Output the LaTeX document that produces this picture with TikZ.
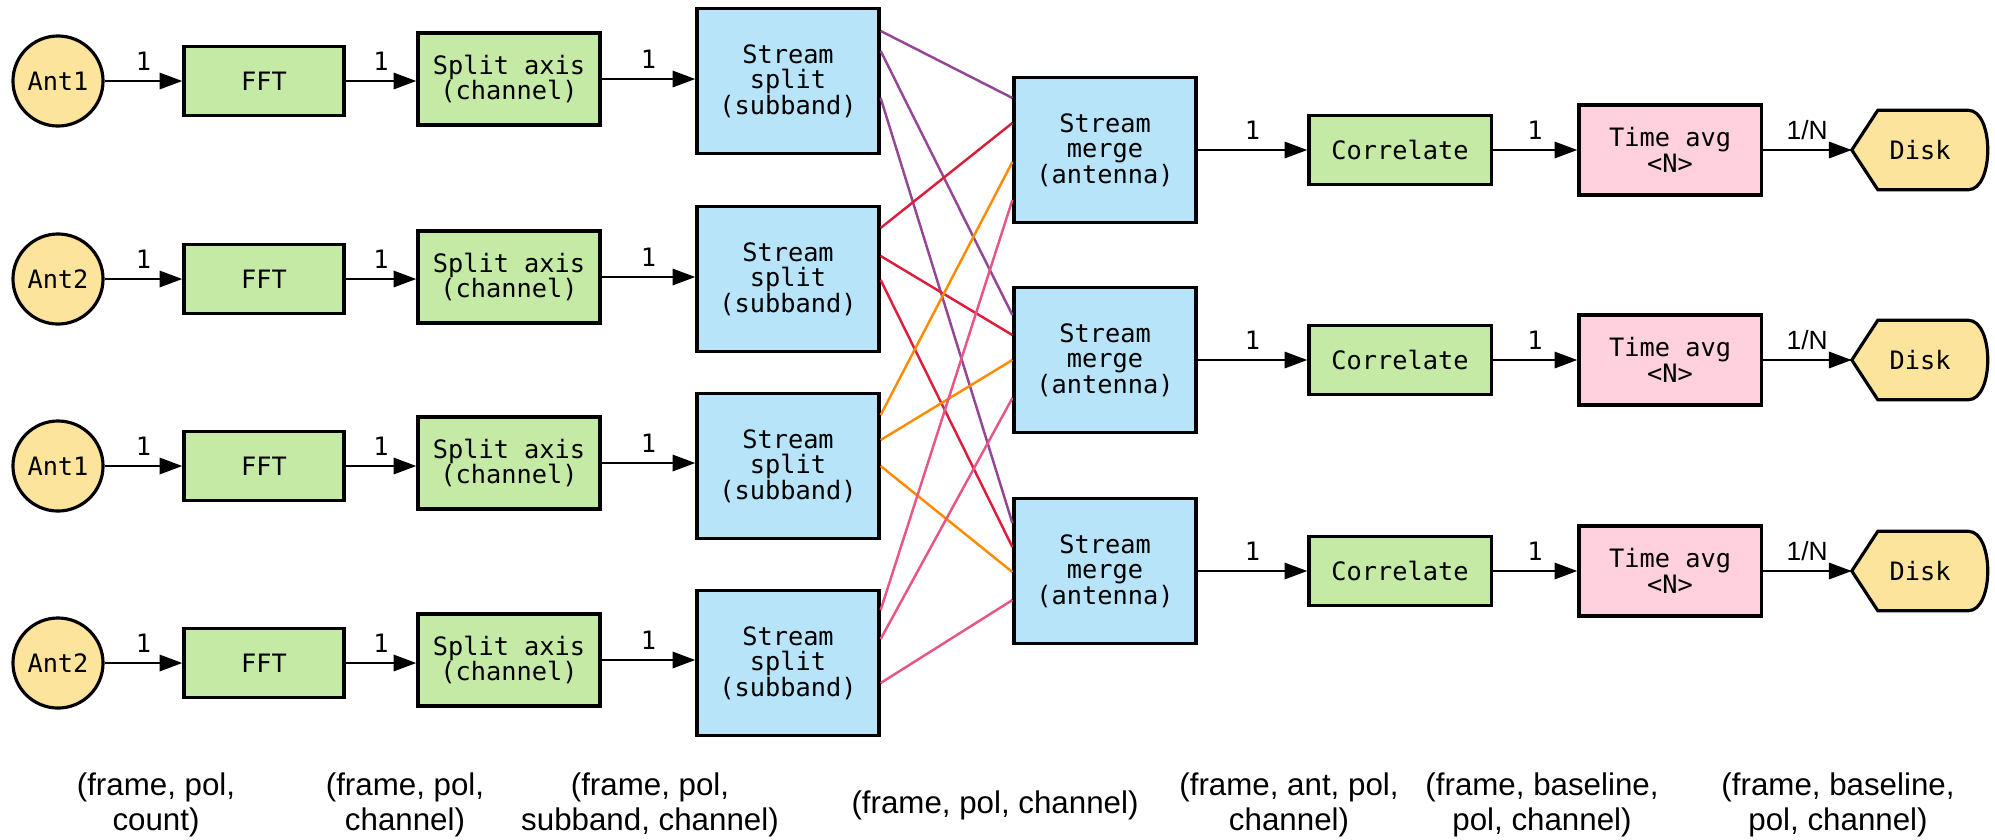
\documentclass[tikz,border=0pt]{standalone}
\usepackage{fontspec}
\setmainfont{Liberation Sans}
\setmonofont{DejaVu Sans Mono}
\usepackage{tikz}
\usetikzlibrary{arrows.meta,backgrounds}

\definecolor{antyellow}{RGB}{253,228,156}
\definecolor{stagegreen}{RGB}{196,234,166}
\definecolor{streamblue}{RGB}{183,228,248}
\definecolor{avgpink}{RGB}{255,208,222}
\definecolor{linkpurple}{RGB}{148,70,150}
\definecolor{linkred}{RGB}{220,30,60}
\definecolor{linkorange}{RGB}{255,140,0}
\definecolor{linkrose}{RGB}{232,85,135}

\begin{document}
\begin{tikzpicture}[x=0.01cm,y=-0.01cm,>={Triangle[length=6.5pt,width=4.6pt]},
  font=\ttfamily\fontsize{7.2}{7.3}\selectfont,
  box/.style={draw,line width=0.9pt,inner sep=1pt,align=center},
  ant/.style={box,circle,fill=antyellow,minimum size=0.9cm,inner sep=0pt},
  fft/.style={box,fill=stagegreen,minimum width=1.6cm,minimum height=0.69cm},
  axis/.style={box,fill=stagegreen,minimum width=1.82cm,minimum height=0.92cm},
  stream/.style={box,fill=streamblue,minimum width=1.82cm,minimum height=1.45cm},
  corr/.style={box,fill=stagegreen,minimum width=1.82cm,minimum height=0.69cm},
  tavg/.style={box,fill=avgpink,minimum width=1.82cm,minimum height=0.9cm},
  disk/.style={minimum width=1.35cm,minimum height=0.78cm,inner sep=0pt},
  flow/.style={->,line width=0.8pt},
  lbl/.style={midway,above=2.5pt,inner sep=0pt},
  link/.style={line width=0.7pt},
  dims/.style={font=\fontsize{8.9}{10}\selectfont,align=center}]
  \useasboundingbox (0,0) rectangle (1995,839);

  % antennas, fft, split axis, stream split (one row per input)
  \node[ant] (a1) at (58,81) {Ant1};
  \node[ant] (a2) at (58,279) {Ant2};
  \node[ant] (a3) at (58,466) {Ant1};
  \node[ant] (a4) at (58,663) {Ant2};
  \node[fft] (f1) at (264,81) {FFT};
  \node[fft] (f2) at (264,279) {FFT};
  \node[fft] (f3) at (264,466) {FFT};
  \node[fft] (f4) at (264,663) {FFT};
  \node[axis] (x1) at (509,79) {Split axis\\(channel)};
  \node[axis] (x2) at (509,277) {Split axis\\(channel)};
  \node[axis] (x3) at (509,463) {Split axis\\(channel)};
  \node[axis] (x4) at (509,660) {Split axis\\(channel)};
  \node[stream] (s1) at (788,81) {Stream\\split\\(subband)};
  \node[stream] (s2) at (788,279) {Stream\\split\\(subband)};
  \node[stream] (s3) at (788,466) {Stream\\split\\(subband)};
  \node[stream] (s4) at (788,663) {Stream\\split\\(subband)};

  % merge, correlate, average, disk (one row per subband)
  \node[stream] (m1) at (1105,150) {Stream\\merge\\(antenna)};
  \node[stream] (m2) at (1105,360) {Stream\\merge\\(antenna)};
  \node[stream] (m3) at (1105,571) {Stream\\merge\\(antenna)};
  \node[corr] (c1) at (1400,150) {Correlate};
  \node[corr] (c2) at (1400,360) {Correlate};
  \node[corr] (c3) at (1400,571) {Correlate};
  \node[tavg] (t1) at (1670,150) {Time avg\\<N>};
  \node[tavg] (t2) at (1670,360) {Time avg\\<N>};
  \node[tavg] (t3) at (1670,571) {Time avg\\<N>};
  \node[disk] (d1) at (1920,150) {Disk};
  \node[disk] (d2) at (1920,360) {Disk};
  \node[disk] (d3) at (1920,571) {Disk};

  % disk outline: pointed left, bulged right
  \begin{scope}[on background layer]
    \foreach \d in {d1,d2,d3}
      \draw[line width=0.9pt,fill=antyellow] (\d.west) -- ([xshift=.26cm]\d.north west)
        -- ([xshift=-.2cm]\d.north east)
        .. controls ([xshift=.06cm]\d.north east) and ([xshift=.06cm]\d.south east) .. ([xshift=-.2cm]\d.south east)
        -- ([xshift=.26cm]\d.south west) -- cycle;
  \end{scope}

  % input chains
  \draw[flow] (a1) -- node[lbl] {1} (f1);
  \draw[flow] (a2) -- node[lbl] {1} (f2);
  \draw[flow] (a3) -- node[lbl] {1} (f3);
  \draw[flow] (a4) -- node[lbl] {1} (f4);
  \draw[flow] (f1) -- node[lbl] {1} (f1 -| x1.west);
  \draw[flow] (f2) -- node[lbl] {1} (f2 -| x2.west);
  \draw[flow] (f3) -- node[lbl] {1} (f3 -| x3.west);
  \draw[flow] (f4) -- node[lbl] {1} (f4 -| x4.west);
  \draw[flow] (x1) -- node[lbl] {1} (x1 -| s1.west);
  \draw[flow] (x2) -- node[lbl] {1} (x2 -| s2.west);
  \draw[flow] (x3) -- node[lbl] {1} (x3 -| s3.west);
  \draw[flow] (x4) -- node[lbl] {1} (x4 -| s4.west);

  % subband fan-out: each split feeds every merge
  \draw[link,linkpurple] ([yshift=.50cm]s1.east) -- ([yshift=.52cm]m1.west);
  \draw[link,linkpurple] ([yshift=.30cm]s1.east) -- ([yshift=.45cm]m2.west);
  \draw[link,linkpurple] ([yshift=-.17cm]s1.east) -- ([yshift=.48cm]m3.west);
  \draw[link,linkred] ([yshift=.51cm]s2.east) -- ([yshift=.27cm]m1.west);
  \draw[link,linkred] ([yshift=.23cm]s2.east) -- ([yshift=.25cm]m2.west);
  \draw[link,linkred] ([yshift=-.01cm]s2.east) -- ([yshift=.24cm]m3.west);
  \draw[link,linkorange] ([yshift=.51cm]s3.east) -- ([yshift=-.12cm]m1.west);
  \draw[link,linkorange] ([yshift=.26cm]s3.east) -- (m2.west);
  \draw[link,linkorange] (s3.east) -- ([yshift=-.01cm]m3.west);
  \draw[link,linkrose] ([yshift=.53cm]s4.east) -- ([yshift=-.50cm]m1.west);
  \draw[link,linkrose] ([yshift=.24cm]s4.east) -- ([yshift=-.38cm]m2.west);
  \draw[link,linkrose] ([yshift=-.20cm]s4.east) -- ([yshift=-.29cm]m3.west);

  % output chains
  \draw[flow] (m1) -- node[lbl] {1} (c1);
  \draw[flow] (m2) -- node[lbl] {1} (c2);
  \draw[flow] (m3) -- node[lbl] {1} (c3);
  \draw[flow] (c1) -- node[lbl] {1} (t1);
  \draw[flow] (c2) -- node[lbl] {1} (t2);
  \draw[flow] (c3) -- node[lbl] {1} (t3);
  \draw[flow] (t1) -- node[lbl,font=\fontsize{7.5}{8}\selectfont] {1/N} (d1);
  \draw[flow] (t2) -- node[lbl,font=\fontsize{7.5}{8}\selectfont] {1/N} (d2);
  \draw[flow] (t3) -- node[lbl,font=\fontsize{7.5}{8}\selectfont] {1/N} (d3);

  % array axes under each stage
  \node[dims] (dim1) at (156,805) {(frame, pol,\\count)};
  \node[dims] (dim2) at (405,805) {(frame, pol,\\channel)};
  \node[dims] (dim3) at (650,805) {(frame, pol,\\subband, channel)};
  \node[dims] (dim4) at (995,805) {(frame, pol, channel)};
  \node[dims] (dim5) at (1289,805) {(frame, ant, pol,\\channel)};
  \node[dims] (dim6) at (1542,805) {(frame, baseline,\\pol, channel)};
  \node[dims] (dim7) at (1838,805) {(frame, baseline,\\pol, channel)};
\end{tikzpicture}
\end{document}
